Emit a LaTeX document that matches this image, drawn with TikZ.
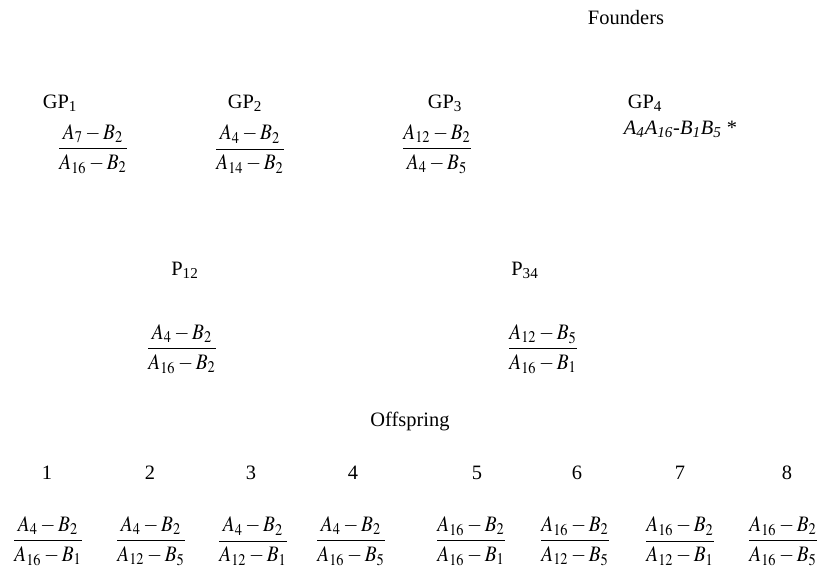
\documentclass[tikz,border=0pt]{standalone}
\usepackage{amsmath}
\usepackage{graphicx}
\usepackage{mathptmx}
\usepackage{fontspec}
\setmainfont{Liberation Serif}
\usepackage{tikz}
\usetikzlibrary{positioning}

\tikzset{
  lbl/.style={inner sep=1pt, font=\fontsize{12.5}{15}\selectfont},
  gen/.style={inner sep=1pt, font=\fontsize{13.5}{16}\selectfont}
}
\newcommand{\hap}[2]{\scalebox{0.88}[1]{$\dfrac{#1}{#2}$}}

\begin{document}
\begin{tikzpicture}[x=0.0215cm,y=-0.0215cm]
\useasboundingbox (0,0) rectangle (819,577);
% founders
\node[lbl] (founders) at (626,18) {Founders};
\node[lbl] (gp1) at (60,103) {GP\textsubscript{1}};
\node[lbl] (gp2) at (245,103) {GP\textsubscript{2}};
\node[lbl] (gp3) at (445,103) {GP\textsubscript{3}};
\node[lbl] (gp4) at (645,103) {GP\textsubscript{4}};
\node[gen] (g1) at (93,149) {\hap{A_7 - B_2}{A_{16} - B_2}};
\node[gen] (g2) at (250,149) {\hap{A_4 - B_2}{A_{14} - B_2}};
\node[gen] (g3) at (437,149) {\hap{A_{12} - B_2}{A_4 - B_5}};
\node[lbl,anchor=west] (g4) at (622,129) {\textit{A\textsubscript{4}A\textsubscript{16}-B\textsubscript{1}B\textsubscript{5}} *};
% parents
\node[lbl] (p12) at (185,270) {P\textsubscript{12}};
\node[lbl] (p34) at (525,270) {P\textsubscript{34}};
\node[gen] (h12) at (182,349) {\hap{A_4 - B_2}{A_{16} - B_2}};
\node[gen] (h34) at (543,349) {\hap{A_{12} - B_5}{A_{16} - B_1}};
% offspring
\node[lbl] (offspring) at (410,422) {Offspring};
\foreach \k/\x in {1/47,2/150,3/251,4/353,5/477,6/577,7/680,8/787}
  \node[lbl] (n\k) at (\x,473) {\k};
\node[gen] (o1) at (48,541) {\hap{A_4 - B_2}{A_{16} - B_1}};
\node[gen] (o2) at (151,541) {\hap{A_4 - B_2}{A_{12} - B_5}};
\node[gen] (o3) at (253,541) {\hap{A_4 - B_2}{A_{12} - B_1}};
\node[gen] (o4) at (351,541) {\hap{A_4 - B_2}{A_{16} - B_5}};
\node[gen] (o5) at (471,541) {\hap{A_{16} - B_2}{A_{16} - B_1}};
\node[gen] (o6) at (575,541) {\hap{A_{16} - B_2}{A_{12} - B_5}};
\node[gen] (o7) at (680,541) {\hap{A_{16} - B_2}{A_{12} - B_1}};
\node[gen] (o8) at (783,541) {\hap{A_{16} - B_2}{A_{16} - B_5}};
\end{tikzpicture}
\end{document}
